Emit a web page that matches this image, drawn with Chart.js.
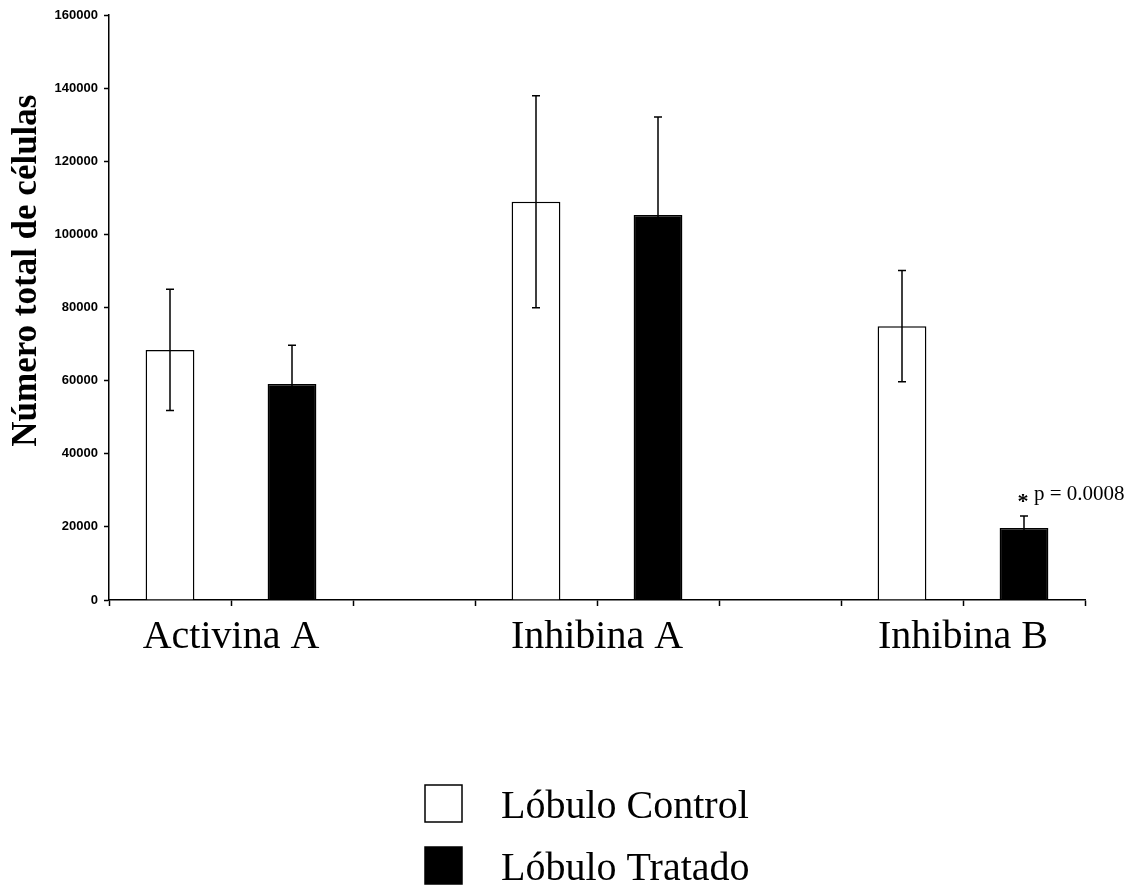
<!DOCTYPE html>
<html>
<head>
<meta charset="utf-8">
<script src="https://cdn.jsdelivr.net/npm/chart.js@4/dist/chart.umd.min.js"></script>
<style>
  html, body { margin: 0; padding: 0; background: #ffffff; }
  #wrap { width: 1134px; height: 888px; position: relative; }
</style>
</head>
<body>
<div id="wrap"><canvas id="chart" width="1134" height="888"></canvas></div>
<script>
// Hormone groups and the two lobule series (mean ± error)
const categories = ['Activina A', 'Inhibina A', 'Inhibina B'];
const seriesNames = ['Lóbulo Control', 'Lóbulo Tratado'];
const controlValues = [68400, 108900, 74900];
const controlErrors = [16600, 29000, 15200];
const treatedValues = [59100, 105300, 19700];
const treatedErrors = [10600, 26800, 3300];
const yTicks = [0, 20000, 40000, 60000, 80000, 100000, 120000, 140000, 160000];
const yTitle = 'Número total de células';
const significanceNote = 'p = 0.0008';

const SERIF = "'Liberation Serif', 'Times New Roman', serif";
const SANS = "'Liberation Sans', Arial, sans-serif";

// Each group spans three slots on the x axis: control, treated, gap.
const groupSlot = g => 3 * g;
const controlPoints = controlValues.map((v, g) => ({ x: groupSlot(g) + 0.5, y: v, err: controlErrors[g] }));
const treatedPoints = treatedValues.map((v, g) => ({ x: groupSlot(g) + 1.5, y: v, err: treatedErrors[g] }));
const labelAt = {};
categories.forEach((c, g) => { labelAt[groupSlot(g) + 1] = c; });

// Error bars drawn from each bar's value ± its error
const errorBars = {
  id: 'errorBars',
  afterDatasetsDraw(chart) {
    const ctx = chart.ctx;
    const yScale = chart.scales.y;
    ctx.save();
    ctx.strokeStyle = '#000';
    ctx.lineWidth = 1.5;
    chart.data.datasets.forEach((ds, i) => {
      const meta = chart.getDatasetMeta(i);
      meta.data.forEach((bar, j) => {
        const p = ds.data[j];
        const top = yScale.getPixelForValue(p.y + p.err);
        const bot = yScale.getPixelForValue(p.y - p.err);
        const cap = 4;
        ctx.beginPath();
        ctx.moveTo(bar.x, top); ctx.lineTo(bar.x, bot);
        ctx.moveTo(bar.x - cap, top); ctx.lineTo(bar.x + cap, top);
        ctx.moveTo(bar.x - cap, bot); ctx.lineTo(bar.x + cap, bot);
        ctx.stroke();
      });
    });
    ctx.restore();
  }
};

// Significance mark above the treated Inhibina B bar
const significance = {
  id: 'significance',
  afterDatasetsDraw(chart) {
    const ctx = chart.ctx;
    const g = categories.length - 1;
    const bar = chart.getDatasetMeta(1).data[g];
    const p = chart.data.datasets[1].data[g];
    const yTop = chart.scales.y.getPixelForValue(p.y + p.err);
    ctx.save();
    ctx.fillStyle = '#000';
    ctx.textBaseline = 'middle';
    ctx.textAlign = 'center';
    ctx.font = 'bold 22px ' + SERIF;
    ctx.fillText('*', bar.x - 1, yTop - 14);
    ctx.textAlign = 'left';
    ctx.font = '21px ' + SERIF;
    ctx.fillText(significanceNote, bar.x + 10, yTop - 21);
    ctx.restore();
  }
};

// Rotated y-axis title, set a little above the axis midpoint
const yAxisTitle = {
  id: 'yAxisTitle',
  afterDraw(chart) {
    const ctx = chart.ctx;
    const area = chart.chartArea;
    ctx.save();
    ctx.translate(27, area.top + (area.bottom - area.top) * 0.437);
    ctx.rotate(-Math.PI / 2);
    ctx.fillStyle = '#000';
    ctx.font = 'bold 35px ' + SERIF;
    ctx.textAlign = 'center';
    ctx.textBaseline = 'middle';
    ctx.fillText(yTitle, 0, 0);
    ctx.restore();
  }
};

// Vertical legend under the plot
const stackedLegend = {
  id: 'stackedLegend',
  afterDraw(chart) {
    const ctx = chart.ctx;
    const boxX = 425, boxSize = 37, textX = 501;
    const rows = [785, 847];
    ctx.save();
    chart.data.datasets.forEach((ds, i) => {
      const y = rows[i];
      ctx.fillStyle = ds.backgroundColor;
      ctx.fillRect(boxX, y, boxSize, boxSize);
      ctx.strokeStyle = '#000';
      ctx.lineWidth = 1.5;
      ctx.strokeRect(boxX, y, boxSize, boxSize);
      ctx.fillStyle = '#000';
      ctx.font = '40px ' + SERIF;
      ctx.textAlign = 'left';
      ctx.textBaseline = 'alphabetic';
      ctx.fillText(ds.label, textX, y + 33);
    });
    ctx.restore();
  }
};

new Chart(document.getElementById('chart'), {
  type: 'bar',
  data: {
    datasets: [
      {
        label: seriesNames[0],
        data: controlPoints,
        backgroundColor: '#ffffff',
        borderColor: '#000000',
        borderWidth: 1.5,
        grouped: false,
        categoryPercentage: 1,
        barPercentage: 0.4
      },
      {
        label: seriesNames[1],
        data: treatedPoints,
        backgroundColor: '#000000',
        borderColor: '#000000',
        borderWidth: 1.5,
        grouped: false,
        categoryPercentage: 1,
        barPercentage: 0.4
      }
    ]
  },
  options: {
    responsive: false,
    animation: false,
    layout: { padding: { top: 15, right: 49, left: 0, bottom: 0 } },
    plugins: {
      legend: { display: false },
      tooltip: { enabled: false }
    },
    scales: {
      x: {
        type: 'linear',
        offset: false,
        min: 0,
        max: 3 * categories.length - 1,
        afterBuildTicks(scale) {
          const t = [];
          for (let i = scale.min; i <= scale.max; i++) t.push({ value: i });
          scale.ticks = t;
        },
        afterFit(scale) { scale.height = 288; },
        border: { display: true, color: '#000', width: 1.5 },
        grid: { offset: false, drawOnChartArea: false, drawTicks: true, tickLength: 6, color: '#000', tickWidth: 1.5 },
        ticks: {
          autoSkip: false,
          maxRotation: 0,
          minRotation: 0,
          padding: 7,
          color: '#000',
          font: { family: SERIF, size: 40 },
          callback: v => labelAt[v] || ''
        }
      },
      y: {
        min: 0,
        max: yTicks[yTicks.length - 1],
        afterBuildTicks(scale) { scale.ticks = yTicks.map(v => ({ value: v })); },
        afterFit(scale) { scale.width = 109; },
        border: { display: true, color: '#000', width: 1.5 },
        grid: { drawOnChartArea: false, drawTicks: true, tickLength: 5, color: '#000', tickWidth: 1.5 },
        ticks: {
          padding: 6,
          color: '#000',
          font: { family: SANS, size: 13, weight: 'bold' },
          callback: v => String(v)
        }
      }
    }
  },
  plugins: [errorBars, significance, yAxisTitle, stackedLegend]
});
</script>
</body>
</html>
